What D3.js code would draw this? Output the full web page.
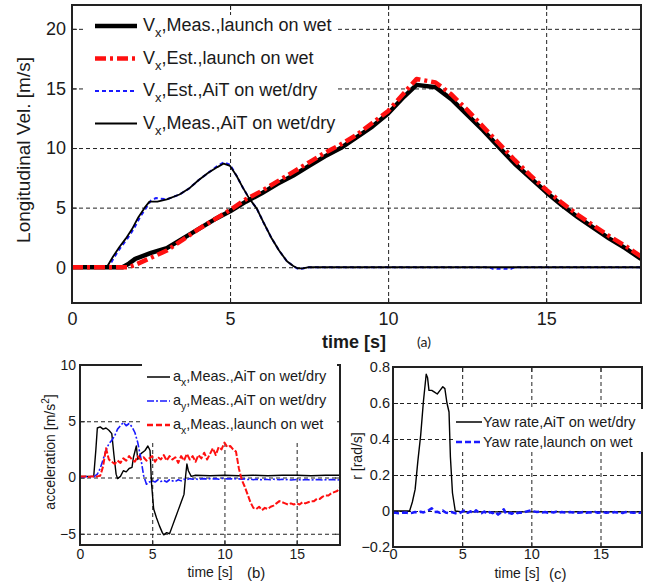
<!DOCTYPE html>
<html>
<head>
<meta charset="utf-8">
<script src="https://cdn.jsdelivr.net/npm/d3@7"></script>
<style>
body { margin: 0; background: #fff; }
svg text { font-family: "Liberation Sans", Arial, sans-serif; fill: #1a1a1a; }
</style>
</head>
<body>
<div id="chart"></div>
<script>
// (a) longitudinal velocity [t, v]
var vxMeasLaunch = [[0,0],[1.6,0],[1.8,0.3],[2.0,0.7],[2.5,1.2],[3.0,1.6],[3.5,2.4],[4.0,3.2],[4.5,4.0],[5.0,4.7],[5.5,5.5],[6.0,6.2],[6.5,7.0],[7.0,7.7],[7.5,8.5],[8.0,9.3],[8.5,10.0],[9.0,10.9],[9.5,11.8],[10.0,12.9],[10.5,14.3],[10.9,15.3],[11.5,15.1],[12.0,14.1],[12.5,12.8],[13.0,11.5],[13.5,10.1],[14.0,8.7],[14.5,7.5],[15.0,6.3],[15.5,5.2],[16.0,4.2],[16.5,3.3],[17.0,2.4],[17.5,1.6],[18.0,0.7]];
var vxEstLaunch = [[0,0],[1.8,0],[2.0,0.2],[2.5,0.8],[3.0,1.4],[3.5,2.3],[4.0,3.2],[4.5,4.0],[5.0,4.8],[5.5,5.7],[6.0,6.4],[6.5,7.2],[7.0,8.0],[7.5,8.8],[8.0,9.6],[8.5,10.3],[9.0,11.1],[9.5,12.1],[10.0,13.1],[10.5,14.6],[10.9,15.8],[11.5,15.5],[12.0,14.5],[12.5,13.2],[13.0,11.8],[13.5,10.4],[14.0,9.0],[14.5,7.7],[15.0,6.5],[15.5,5.4],[16.0,4.4],[16.5,3.5],[17.0,2.6],[17.5,1.8],[18.0,0.9]];
var vxEstAit = [[0,0],[1.15,0],[1.35,0.9],[1.55,1.7],[1.75,2.4],[1.95,3.2],[2.15,4.2],[2.35,5.0],[2.5,5.6],[2.65,5.8],[3.0,5.7],[3.4,6.1],[3.7,6.6],[4.0,7.3],[4.3,7.9],[4.6,8.5],[4.8,8.8],[5.0,8.6],[5.2,7.7],[5.4,6.7],[5.6,5.8],[5.85,4.9],[6.05,3.8],[6.3,2.5],[6.55,1.4],[6.8,0.5],[7.0,0.1],[7.15,-0.15],[7.3,-0.1],[7.5,0],[13.2,0],[13.3,-0.12],[13.9,-0.12],[14.0,0],[18,0]];
var vxMeasAit = [[0,0],[1.1,0],[1.3,0.9],[1.5,1.7],[1.7,2.4],[1.9,3.2],[2.1,4.2],[2.3,5.0],[2.45,5.5],[2.7,5.5],[3.0,5.7],[3.4,6.1],[3.7,6.6],[4.0,7.3],[4.3,7.9],[4.6,8.4],[4.8,8.7],[5.0,8.5],[5.2,7.7],[5.4,6.7],[5.6,5.8],[5.85,4.9],[6.05,3.8],[6.3,2.5],[6.55,1.4],[6.8,0.5],[7.0,0.1],[7.15,-0.1],[7.3,-0.1],[7.5,0],[18,0]];

// (b) accelerations
var axMeasAit = [[0,0.1],[0.95,0.1],[1.1,2.5],[1.2,4.4],[1.4,4.5],[1.6,4.3],[1.8,4.4],[2.0,4.2],[2.2,3.9],[2.35,2.0],[2.5,0.3],[2.6,-0.1],[2.8,0.1],[3.0,0.6],[3.2,0.5],[3.4,0.8],[3.6,0.9],[3.7,1.8],[3.9,2.8],[4.0,1.6],[4.2,2.1],[4.5,2.4],[4.7,2.8],[4.85,2.4],[4.95,-0.5],[5.1,-2.8],[5.3,-3.6],[5.5,-4.3],[5.7,-4.9],[5.8,-5.1],[6.0,-4.9],[6.2,-5.0],[6.4,-4.3],[6.6,-3.6],[6.8,-2.9],[7.0,-2.2],[7.2,-1.5],[7.3,0],[7.4,1.2],[7.5,0.6],[7.7,0.1],[8,0.2],[9,0.15],[10,0.2],[11,0.15],[12,0.2],[13,0.15],[14,0.2],[15,0.2],[16,0.15],[17,0.2],[18,0.2]];
var sampleStep = 0.2;
var ayMeasAit = [0.05,0.05,0.08,0.05,0.06,0.1,
  0.3,0.8,1.6,2.4,3.0,3.3,3.7,4.3,4.6,4.9,
  4.6,4.8,4.5,4.0,3.1,1.8,0.2,-0.6,-0.4,-0.3,
  -0.4,-0.2,-0.35,-0.25,-0.4,-0.2,-0.3,-0.35,-0.2,-0.3,
  -0.15,-0.2,-0.1,-0.15,-0.1,-0.2,-0.12,-0.1,-0.15,-0.1,
  -0.12,-0.1,-0.15,-0.08,-0.1,-0.12,-0.1,-0.15,-0.1,-0.12,
  -0.15,-0.12,-0.18,-0.15,-0.2,-0.15,-0.18,-0.2,-0.15,-0.18,
  -0.2,-0.15,-0.18,-0.2,-0.15,-0.2,-0.18,-0.22,-0.2,-0.18,
  -0.2,-0.22,-0.18,-0.2,-0.22,-0.2,-0.18,-0.2,-0.22,-0.2,
  -0.2,-0.18,-0.2,-0.22,-0.2];
var axMeasLaunch = [0.1,0.1,0.1,0.05,0.1,0.1,0.1,0.15,
  1.0,2.6,1.6,1.4,1.2,1.5,1.3,1.7,1.5,1.9,
  1.6,1.4,1.9,1.6,1.8,1.5,1.7,1.9,1.4,1.8,
  1.6,2.0,1.5,1.9,1.6,1.8,1.3,1.9,1.5,2.1,
  1.6,1.9,1.4,2.0,1.7,2.2,1.6,2.1,2.6,2.0,
  2.7,2.5,3.1,2.7,2.8,2.5,2.3,0.8,-0.2,-0.8,
  -1.5,-2.2,-2.7,-2.8,-2.6,-2.9,-2.7,-2.8,-2.6,-2.5,
  -2.3,-2.1,-2.2,-2.3,-2.4,-2.3,-2.4,-2.3,-2.4,-2.2,
  -2.3,-2.2,-2.1,-2.1,-1.9,-1.9,-1.7,-1.6,-1.6,-1.4,
  -1.3,-1.2,-0.9];

// (c) yaw rate
var yawAit = [[0,0],[1.2,0],[1.4,0.05],[1.6,0.12],[1.8,0.28],[2.0,0.42],[2.2,0.61],[2.4,0.76],[2.5,0.74],[2.6,0.67],[2.8,0.67],[3.0,0.66],[3.2,0.65],[3.4,0.67],[3.6,0.69],[3.75,0.68],[3.9,0.6],[4.05,0.55],[4.15,0.3],[4.3,0.1],[4.5,0.0],[5,-0.005],[18,-0.005]];
var yawLaunch = [-0.01,-0.01,-0.012,-0.01,-0.008,-0.01,
  -0.012,-0.01,-0.006,-0.01,-0.004,-0.008,-0.002,0.005,0.015,-0.005,
  -0.004,-0.01,0.002,-0.008,-0.012,-0.006,-0.01,-0.015,-0.012,-0.004,
  0.005,-0.01,-0.002,-0.014,0.004,-0.008,-0.012,-0.003,-0.016,-0.006,
  -0.012,-0.004,-0.02,-0.008,0.01,-0.018,-0.01,-0.015,-0.006,-0.012,
  -0.008,-0.012,-0.004,0.0,0.004,-0.002,-0.006,-0.004,-0.008,-0.006,
  -0.01,-0.006,-0.008,-0.004,-0.01,-0.006,-0.008,-0.01,-0.006,-0.008,
  -0.006,-0.01,-0.008,-0.004,-0.01,-0.007,-0.009,-0.005,-0.01,-0.008,
  -0.006,-0.01,-0.008,-0.012,-0.006,-0.009,-0.007,-0.011,-0.006,-0.009,
  -0.008,-0.01,-0.007,-0.01,-0.009];

var timeTicks = [0, 5, 10, 15];

function sampled(values) {
    return values.map(function(v, i) { return [i * sampleStep, v]; });
}

var svg = d3.select("#chart").append("svg")
    .attr("width", 658)
    .attr("height", 588);

function panel(p) {
    var x = d3.scaleLinear().domain(p.xDomain).range([p.left, p.right]);
    var y = d3.scaleLinear().domain(p.yDomain).range([p.bottom, p.top]);
    var g = svg.append("g");
    var h = p.bottom - p.top, w = p.right - p.left;

    // dashed grid
    g.append("g")
        .attr("transform", "translate(0," + p.bottom + ")")
        .call(d3.axisBottom(x).tickValues(p.xGrid).tickSize(-h).tickFormat(""))
        .call(function(s) { s.select(".domain").remove(); })
        .selectAll("line").attr("stroke", "#222").attr("stroke-dasharray", "4,3");
    g.append("g")
        .attr("transform", "translate(" + p.left + ",0)")
        .call(d3.axisLeft(y).tickValues(p.yGrid).tickSize(-w).tickFormat(""))
        .call(function(s) { s.select(".domain").remove(); })
        .selectAll("line").attr("stroke", "#222").attr("stroke-dasharray", "4,3");

    // inward ticks + labels
    var xa = g.append("g")
        .attr("transform", "translate(0," + p.bottom + ")")
        .call(d3.axisBottom(x).tickValues(p.xTicks).tickSizeInner(-5).tickSizeOuter(0).tickPadding(p.xPad));
    var ya = g.append("g")
        .attr("transform", "translate(" + p.left + ",0)")
        .call(d3.axisLeft(y).tickValues(p.yTicks).tickSizeInner(-5).tickSizeOuter(0).tickPadding(p.yPad).tickFormat(p.yFormat || null));
    g.append("g")
        .attr("transform", "translate(0," + p.top + ")")
        .call(d3.axisTop(x).tickValues(p.xTicks).tickSizeInner(-5).tickSizeOuter(0).tickFormat(""));
    g.append("g")
        .attr("transform", "translate(" + p.right + ",0)")
        .call(d3.axisRight(y).tickValues(p.yTicks).tickSizeInner(-5).tickSizeOuter(0).tickFormat(""));
    g.selectAll(".domain").remove();
    g.selectAll(".tick line").filter(function() { return !this.getAttribute("stroke-dasharray"); })
        .attr("stroke", "#222");
    xa.selectAll("text").attr("font-size", p.font).attr("font-family", null);
    ya.selectAll("text").attr("font-size", p.font).attr("font-family", null);

    var clip = "clip" + p.id;
    svg.append("clipPath").attr("id", clip)
        .append("rect").attr("x", p.left).attr("y", p.top).attr("width", w).attr("height", h);
    var plot = g.append("g").attr("clip-path", "url(#" + clip + ")");

    g.append("rect")
        .attr("x", p.left).attr("y", p.top)
        .attr("width", w).attr("height", h)
        .attr("fill", "none").attr("stroke", "#222").attr("stroke-width", 2);

    return {g: g, plot: plot, x: x, y: y};
}

function drawLine(ch, data, color, width, dash) {
    var line = d3.line()
        .x(function(d) { return ch.x(d[0]); })
        .y(function(d) { return ch.y(d[1]); });
    ch.plot.append("path")
        .datum(data)
        .attr("d", line)
        .attr("fill", "none")
        .attr("stroke", color)
        .attr("stroke-width", width)
        .attr("stroke-linejoin", "round")
        .attr("stroke-dasharray", dash || null);
}

function legend(g, box, items, o) {
    g.append("rect")
        .attr("x", box[0]).attr("y", box[1])
        .attr("width", box[2]).attr("height", box[3])
        .attr("fill", "#fff");
    items.forEach(function(it, i) {
        var yy = o.y0 + i * o.dy;
        g.append("line")
            .attr("x1", o.x0).attr("x2", o.x1)
            .attr("y1", yy).attr("y2", yy)
            .attr("stroke", it.color).attr("stroke-width", it.width)
            .attr("stroke-dasharray", it.dash || null);
        var t = g.append("text")
            .attr("x", o.x1 + o.gap).attr("y", yy + o.base)
            .attr("font-size", o.font);
        if (it.sub) {
            t.append("tspan").text(it.pre);
            t.append("tspan").attr("dy", o.font * 0.35).attr("font-size", o.font * 0.72).text(it.sub);
            t.append("tspan").attr("dy", -o.font * 0.35).text(it.post);
        } else {
            t.text(it.post);
        }
    });
}

// ---------- (a) ----------
var a = panel({id: "a", left: 72, right: 641, top: 5, bottom: 303,
    xDomain: [0, 18], yDomain: [-3, 22],
    xTicks: timeTicks, yTicks: [0, 5, 10, 15, 20],
    xGrid: [5, 10, 15], yGrid: [0, 5, 10, 15, 20],
    font: 18, xPad: 9, yPad: 6});

drawLine(a, vxEstAit, "#1a1aff", 2, "4,3");
drawLine(a, vxMeasAit, "#000", 1.8);
drawLine(a, vxMeasLaunch, "#000", 4.5);
drawLine(a, vxEstLaunch, "#ff1010", 4.5, "11,4,3,4");

legend(a.g, [86, 15, 250, 127], [
    {pre: "V", sub: "x", post: ",Meas.,launch on wet", color: "#000", width: 4.5},
    {pre: "V", sub: "x", post: ",Est.,launch on wet", color: "#ff1010", width: 4.5, dash: "11,4,3,4"},
    {pre: "V", sub: "x", post: ",Est.,AiT on wet/dry", color: "#1a1aff", width: 2, dash: "4,3"},
    {pre: "V", sub: "x", post: ",Meas.,AiT on wet/dry", color: "#000", width: 2}
], {x0: 95, x1: 137, gap: 6, y0: 26, dy: 32.5, base: 5, font: 18});

a.g.append("text")
    .attr("transform", "translate(30,150) rotate(-90)")
    .attr("text-anchor", "middle").attr("font-size", 19)
    .text("Longitudinal Vel. [m/s]");
a.g.append("text")
    .attr("x", 354).attr("y", 348)
    .attr("text-anchor", "middle").attr("font-size", 18).attr("font-weight", "bold")
    .text("time [s]");
a.g.append("text")
    .attr("x", 417).attr("y", 347)
    .attr("font-size", 14).style("font-family", "Lato, sans-serif")
    .text("(a)");

// ---------- (b) ----------
var b = panel({id: "b", left: 80, right: 340, top: 365, bottom: 545,
    xDomain: [0, 18], yDomain: [-6, 10],
    xTicks: timeTicks, yTicks: [-5, 0, 5, 10],
    xGrid: [5, 10, 15], yGrid: [-5, 0, 5],
    font: 14, xPad: 4, yPad: 4});

drawLine(b, axMeasAit, "#000", 1.4);
drawLine(b, sampled(ayMeasAit), "#1a1aff", 1.6, "7,2,2,2");
drawLine(b, sampled(axMeasLaunch), "#ff1010", 2, "6,2");

legend(b.g, [142, 358, 195, 82], [
    {pre: "a", sub: "x", post: ",Meas.,AiT on wet/dry", color: "#000", width: 1.5},
    {pre: "a", sub: "y", post: ",Meas.,AiT on wet/dry", color: "#1a1aff", width: 1.6, dash: "7,2,2,2"},
    {pre: "a", sub: "x", post: ",Meas.,launch on wet", color: "#ff1010", width: 2.5, dash: "6,3"}
], {x0: 147, x1: 170, gap: 3, y0: 377, dy: 24, base: 4, font: 14.5});

var accLabel = b.g.append("text")
    .attr("transform", "translate(55,452) rotate(-90)")
    .attr("text-anchor", "middle").attr("font-size", 14);
accLabel.append("tspan").text("acceleration [m/s");
accLabel.append("tspan").attr("dy", -6).attr("font-size", 10).text("2");
accLabel.append("tspan").attr("dy", 6).text("]");
b.g.append("text")
    .attr("x", 210).attr("y", 577)
    .attr("text-anchor", "middle").attr("font-size", 14)
    .text("time [s]");
b.g.append("text")
    .attr("x", 247).attr("y", 578)
    .attr("font-size", 15)
    .text("(b)");

// ---------- (c) ----------
var c = panel({id: "c", left: 393, right: 642, top: 367, bottom: 547,
    xDomain: [0, 18], yDomain: [-0.2, 0.8],
    xTicks: timeTicks, yTicks: [-0.2, 0, 0.2, 0.4, 0.6, 0.8],
    xGrid: [5, 10, 15], yGrid: [0, 0.2, 0.4, 0.6],
    font: 14.5, xPad: 2, yPad: 3,
    yFormat: function(d) { return d === 0 ? "0" : d3.format(".1f")(d); }});

drawLine(c, yawAit, "#000", 1.4);
drawLine(c, sampled(yawLaunch), "#1a1aff", 2.5, "6,3");

legend(c.g, [454, 409, 196, 43], [
    {post: "Yaw rate,AiT on wet/dry", color: "#000", width: 1.5},
    {post: "Yaw rate,launch on wet", color: "#1a1aff", width: 2.5, dash: "6,3"}
], {x0: 456, x1: 482, gap: 1, y0: 422, dy: 20, base: 5, font: 14.5});

c.g.append("text")
    .attr("transform", "translate(362,456) rotate(-90)")
    .attr("text-anchor", "middle").attr("font-size", 14)
    .text("r [rad/s]");
c.g.append("text")
    .attr("x", 517).attr("y", 578)
    .attr("text-anchor", "middle").attr("font-size", 14)
    .text("time [s]");
c.g.append("text")
    .attr("x", 549).attr("y", 579)
    .attr("font-size", 15)
    .text("(c)");
</script>
</body>
</html>
